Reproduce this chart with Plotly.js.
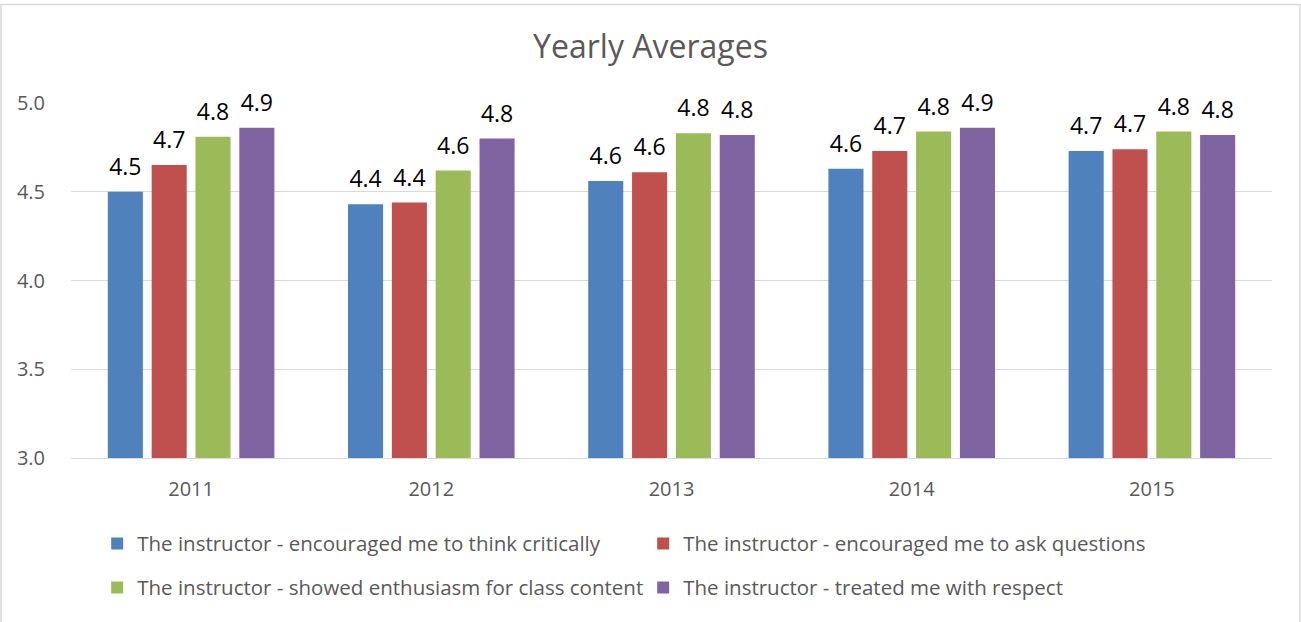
<!DOCTYPE html>
<html>
<head>
<meta charset="utf-8">
<script src="https://cdn.plot.ly/plotly-3.0.1.min.js"></script>
<style>html,body{margin:0;padding:0;background:#fff;}#chart{width:1301px;height:622px;}</style>
</head>
<body>
<div id="chart"></div>
<script>
const years = ['2011', '2012', '2013', '2014', '2015'];
const seriesNames = [
  'The instructor - encouraged me to think critically',
  'The instructor - encouraged me to ask questions',
  'The instructor - showed enthusiasm for class content',
  'The instructor - treated me with respect'
];
const thinkCritically = [4.50, 4.43, 4.56, 4.63, 4.73];
const askQuestions = [4.65, 4.44, 4.61, 4.73, 4.74];
const showedEnthusiasm = [4.81, 4.62, 4.83, 4.84, 4.84];
const treatedRespect = [4.86, 4.80, 4.82, 4.86, 4.82];
const seriesColors = ['#4F81BD', '#C0504D', '#9BBB59', '#8064A2'];

const allSeries = [thinkCritically, askQuestions, showedEnthusiasm, treatedRespect];
const FONT = 'Open Sans, sans-serif';

const traces = [];
allSeries.forEach((vals, i) => {
  traces.push({
    type: 'bar', x: years, y: vals, name: seriesNames[i],
    marker: {color: seriesColors[i], line: {width: 0}},
    legend: i < 2 ? 'legend' : 'legend2',
    hoverinfo: 'skip'
  });
});
allSeries.forEach((vals, i) => {
  traces.push({
    type: 'scatter', mode: 'markers+text', x: years, y: vals,
    texttemplate: '%{y:.1f}', textposition: 'top center',
    textfont: {family: FONT, size: 23, color: '#000000'},
    marker: {size: 16, opacity: 0, color: seriesColors[i]},
    cliponaxis: false, showlegend: false, hoverinfo: 'skip'
  });
});

const legendFont = {family: FONT, size: 20.5, color: '#595959'};
const layout = {
  width: 1301, height: 622,
  paper_bgcolor: '#ffffff', plot_bgcolor: '#ffffff',
  margin: {l: 71, r: 29, t: 103, b: 164, pad: 0},
  font: {family: FONT, color: '#595959'},
  title: {text: 'Yearly Averages', x: 0.5, xanchor: 'center', y: 0.924, yanchor: 'middle',
          font: {family: FONT, size: 32, color: '#595959'}},
  barmode: 'group', bargap: 0.27, bargroupgap: 0.2,
  scattermode: 'group', scattergap: 0.27,
  xaxis: {type: 'category', showgrid: false, zeroline: false, showline: true, linecolor: '#d9d9d9', linewidth: 1,
          ticks: '', tickfont: {family: FONT, size: 20, color: '#595959'}, ticklabelstandoff: 13, fixedrange: true},
  yaxis: {range: [3, 5], dtick: 0.5, tickformat: '.1f', showgrid: true, gridcolor: '#d9d9d9', gridwidth: 1,
          zeroline: false, showline: false, ticks: '', tickfont: {family: FONT, size: 20, color: '#595959'},
          ticklabelstandoff: 25, fixedrange: true},
  legend: {orientation: 'h', x: 0.0218, xanchor: 'left', y: -0.241, yanchor: 'middle',
           entrywidth: 501, entrywidthmode: 'pixels', font: legendFont,
           bgcolor: 'rgba(0,0,0,0)', itemclick: false, itemdoubleclick: false},
  legend2: {orientation: 'h', x: 0.0218, xanchor: 'left', y: -0.365, yanchor: 'middle',
           entrywidth: 501, entrywidthmode: 'pixels', font: legendFont,
           bgcolor: 'rgba(0,0,0,0)', itemclick: false, itemdoubleclick: false},
  shapes: [{type: 'rect', xref: 'paper', yref: 'paper', x0: -0.0583, x1: 1.0233, y0: -0.52, y1: 1.2776,
            line: {color: '#d9d9d9', width: 1.5}, layer: 'below'}],
  showlegend: true
};

Plotly.newPlot('chart', traces, layout, {displayModeBar: false, staticPlot: true});
</script>
</body>
</html>
